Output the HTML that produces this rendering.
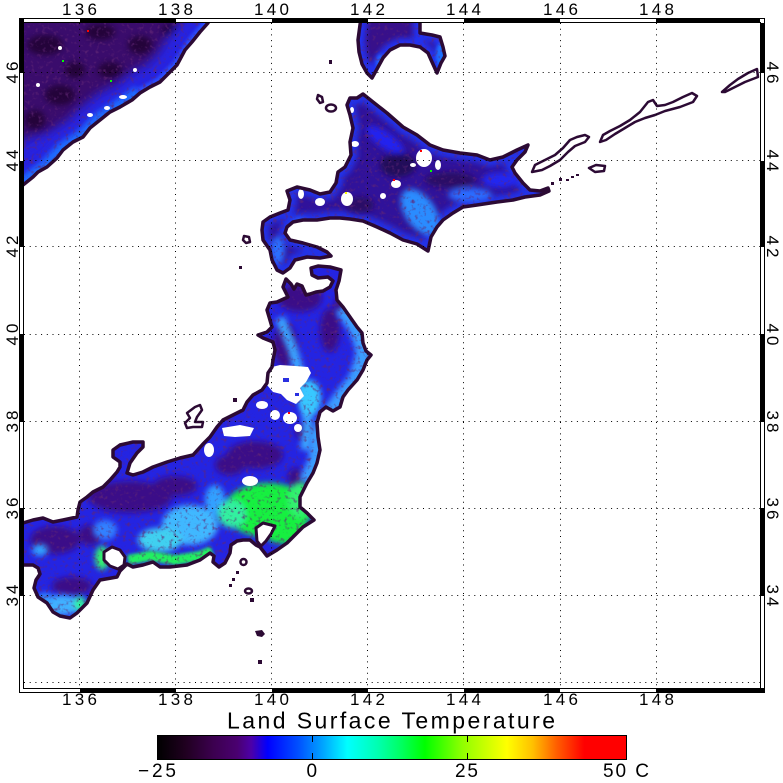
<!DOCTYPE html>
<html><head><meta charset="utf-8"><style>
html,body{margin:0;padding:0;background:#fff;}
svg{display:block;}
text{font-family:"Liberation Sans",sans-serif;fill:#000;}
</style></head><body>
<svg width="783" height="783" viewBox="0 0 783 783" xmlns="http://www.w3.org/2000/svg">
<defs>
<path id="rusF" d="M212,-30 L212,-5 L208,23 L200,32 L192,42 L185,50 L177,65 L170,72 L160,82 L150,87 L140,93 L132,100 L120,107 L110,112 L100,120 L90,128 L83,137 L73,142 L63,150 L57,158 L47,167 L38,172 L33,177 L23,185 L-5,190 L-30,190 L-30,-30 Z"/>
<path id="rusC" d="M212,-5 L208,23 L200,32 L192,42 L185,50 L177,65 L170,72 L160,82 L150,87 L140,93 L132,100 L120,107 L110,112 L100,120 L90,128 L83,137 L73,142 L63,150 L57,158 L47,167 L38,172 L33,177 L23,185 L-5,190"/>
<path id="sak" d="M363,5 L420,5 L420,33 L432,35 L440,37 L443,47 L445,56 L441,63 L437,73 L432,62 L428,53 L420,47 L410,45 L400,45 L390,50 L383,58 L377,69 L372,78 L367,73 L362,64 L359,52 L358,40 L360,25 Z"/>
<path id="hok" d="M363,94 L373,102 L387,113 L403,127 L417,135 L430,145 L443,150 L460,153 L477,155 L490,160 L503,157 L517,150 L528,145 L525,152 L517,160 L512,167 L515,173 L523,183 L530,190 L540,191 L548,188 L549,191 L540,195 L525,197 L513,200 L497,202 L477,205 L463,207 L453,213 L443,220 L437,227 L431,237 L428,251 L417,244 L403,240 L390,233 L377,227 L363,221 L350,219 L340,218 L330,218 L317,220 L303,220 L293,222 L287,227 L285,233 L290,240 L303,243 L317,247 L327,252 L331,256 L320,258 L307,257 L295,260 L290,268 L283,273 L277,270 L272,260 L270,250 L263,240 L262,230 L263,222 L270,217 L280,213 L288,210 L290,200 L287,191 L297,187 L310,190 L320,194 L330,192 L336,183 L338,172 L345,167 L351,155 L350,142 L353,128 L350,115 L347,105 L350,98 L357,98 Z"/>
<path id="hon" d="M286,279 L291,284 L294,289 L297,284 L302,286 L306,295 L310,294 L316,292 L323,291 L330,287 L333,281 L328,277 L318,278 L312,275 L311,268 L318,266 L330,267 L341,270 L339,281 L336,290 L337,300 L343,307 L350,317 L357,327 L362,333 L363,343 L366,351 L371,355 L367,360 L363,370 L357,380 L348,390 L343,397 L340,407 L333,411 L326,407 L320,412 L317,423 L318,437 L320,450 L317,463 L313,473 L307,483 L300,497 L300,507 L307,513 L314,520 L303,527 L297,533 L287,543 L277,550 L267,556 L260,547 L256,545 L250,540 L243,540 L237,541 L231,545 L230,553 L225,563 L219,567 L213,562 L214,556 L210,553 L200,560 L187,565 L170,567 L160,567 L153,562 L143,565 L133,567 L127,564 L120,571 L117,577 L100,580 L93,590 L87,603 L77,613 L70,618 L60,616 L53,612 L47,603 L38,597 L34,588 L36,580 L40,574 L38,568 L33,565 L23,565 L5,565 L5,522 L23,523 L33,520 L43,518 L53,522 L63,520 L77,517 L78,510 L80,502 L87,497 L93,492 L103,487 L110,480 L117,472 L120,467 L120,462 L113,457 L113,450 L120,445 L133,442 L143,442 L143,447 L137,453 L130,463 L127,473 L133,475 L143,472 L153,467 L167,462 L180,458 L193,455 L203,444 L210,437 L217,427 L223,420 L237,413 L243,410 L247,402 L253,395 L262,390 L267,383 L268,373 L272,367 L273,360 L275,350 L273,342 L263,338 L258,335 L267,332 L272,327 L267,310 L270,303 L277,302 L288,297 L283,287 Z"/>
<clipPath id="plot"><rect x="24" y="23" width="736" height="665"/></clipPath>
<clipPath id="cRus"><use href="#rusF"/></clipPath>
<clipPath id="cSak"><use href="#sak"/></clipPath>
<clipPath id="cHok"><use href="#hok"/></clipPath>
<clipPath id="cHon"><use href="#hon"/></clipPath>
<clipPath id="cAll"><use href="#rusF"/><use href="#sak"/><use href="#hok"/><use href="#hon"/></clipPath>
<filter id="b2" filterUnits="userSpaceOnUse" x="0" y="0" width="783" height="783"><feGaussianBlur stdDeviation="1.5"/></filter>
<filter id="b3" filterUnits="userSpaceOnUse" x="0" y="0" width="783" height="783"><feGaussianBlur stdDeviation="3"/></filter>
<filter id="b5" filterUnits="userSpaceOnUse" x="0" y="0" width="783" height="783"><feGaussianBlur stdDeviation="5"/></filter>
<filter id="noise" filterUnits="userSpaceOnUse" x="0" y="0" width="783" height="783">
<feTurbulence type="fractalNoise" baseFrequency="0.26" numOctaves="2" seed="7" result="t"/>
<feColorMatrix in="t" type="matrix" values="0 0 0 0 0.12  0 0 0 0 0.02  0 0 0 0 0.18  3.2 0 0 0 -1.75"/>
</filter>
<linearGradient id="cb" x1="0" y1="0" x2="1" y2="0">
<stop offset="0" stop-color="#000000"/>
<stop offset="0.06" stop-color="#200020"/>
<stop offset="0.12" stop-color="#3c0050"/>
<stop offset="0.17" stop-color="#4a0070"/>
<stop offset="0.20" stop-color="#4c00a8"/>
<stop offset="0.235" stop-color="#0000ff"/>
<stop offset="0.30" stop-color="#0050ff"/>
<stop offset="0.35" stop-color="#00a0ff"/>
<stop offset="0.405" stop-color="#00ffff"/>
<stop offset="0.47" stop-color="#00ffb0"/>
<stop offset="0.52" stop-color="#00ff60"/>
<stop offset="0.57" stop-color="#00ff00"/>
<stop offset="0.65" stop-color="#90ff00"/>
<stop offset="0.745" stop-color="#ffff00"/>
<stop offset="0.80" stop-color="#ffc000"/>
<stop offset="0.85" stop-color="#ff6000"/>
<stop offset="0.89" stop-color="#ff2000"/>
<stop offset="0.91" stop-color="#ff0000"/>
<stop offset="1" stop-color="#ff0000"/>
</linearGradient>
</defs>

<rect x="0" y="0" width="783" height="783" fill="#fff"/>

<g clip-path="url(#plot)">
<!-- Russia -->
<g clip-path="url(#cRus)">
<rect x="0" y="0" width="260" height="200" fill="#3a0c6c"/>
<g fill="#1c0628" opacity="0.7" filter="url(#b3)">
<ellipse cx="45" cy="45" rx="18" ry="10"/><ellipse cx="100" cy="32" rx="15" ry="8"/>
<ellipse cx="140" cy="45" rx="12" ry="9"/><ellipse cx="60" cy="95" rx="15" ry="10"/>
<ellipse cx="110" cy="70" rx="12" ry="8"/><ellipse cx="170" cy="30" rx="8" ry="6"/>
<ellipse cx="35" cy="120" rx="10" ry="10"/><ellipse cx="75" cy="70" rx="10" ry="8"/>
</g>
<ellipse cx="45" cy="160" rx="40" ry="25" fill="#2a20d8" filter="url(#b5)"/>
<use href="#rusC" fill="none" stroke="#2624e0" stroke-width="44" filter="url(#b5)"/>
<path d="M140,93 L120,107 L100,120 L83,137 L63,150 L47,167 L23,185" fill="none" stroke="#1e6cff" stroke-width="16" filter="url(#b3)"/>
<path d="M208,23 L192,42 L177,65 L160,82 L140,93" fill="none" stroke="#2a50ff" stroke-width="10" filter="url(#b2)"/>
</g>
<!-- Sakhalin -->
<g clip-path="url(#cSak)">
<rect x="340" y="0" width="120" height="90" fill="#38108a"/>
<use href="#sak" fill="none" stroke="#2030f0" stroke-width="14" filter="url(#b3)"/>
<ellipse cx="441" cy="55" rx="5" ry="12" fill="#1e70ff" filter="url(#b2)"/>
<ellipse cx="381" cy="62" rx="5" ry="8" fill="#2060ff" filter="url(#b2)"/>
</g>
<!-- Hokkaido -->
<g clip-path="url(#cHok)">
<rect x="250" y="85" width="310" height="195" fill="#30129a"/>
<use href="#hok" fill="none" stroke="#2030e8" stroke-width="14" filter="url(#b3)"/>
<g filter="url(#b3)">
<ellipse cx="420" cy="212" rx="15" ry="26" transform="rotate(-35 420 212)" fill="#2a8cff"/>
<ellipse cx="470" cy="195" rx="22" ry="7" fill="#2a6cff"/>
<ellipse cx="385" cy="140" rx="22" ry="8" transform="rotate(35 385 140)" fill="#2424f0"/>
<ellipse cx="300" cy="230" rx="10" ry="12" fill="#2a60ff"/>
<ellipse cx="278" cy="250" rx="7" ry="14" fill="#2a70ff"/>
<ellipse cx="500" cy="180" rx="18" ry="8" fill="#2428f0"/>
<ellipse cx="398" cy="165" rx="18" ry="12" fill="#24085a"/>
<ellipse cx="450" cy="180" rx="25" ry="8" fill="#2a0a66"/>
<ellipse cx="360" cy="205" rx="14" ry="8" fill="#2a0a66"/>
<ellipse cx="330" cy="150" rx="8" ry="10" fill="#2a0a66"/>
</g>
</g>
<!-- Honshu -->
<g clip-path="url(#cHon)">
<rect x="0" y="255" width="400" height="380" fill="#2424e2"/>
<g fill="#3a0c88" filter="url(#b3)">
<ellipse cx="300" cy="298" rx="22" ry="14"/><ellipse cx="285" cy="345" rx="12" ry="22"/>
<ellipse cx="330" cy="330" rx="10" ry="22"/><ellipse cx="340" cy="305" rx="6" ry="8"/>
<ellipse cx="255" cy="455" rx="28" ry="14"/><ellipse cx="230" cy="465" rx="15" ry="10"/>
<ellipse cx="130" cy="497" rx="42" ry="16"/><ellipse cx="175" cy="486" rx="22" ry="10"/>
<ellipse cx="55" cy="540" rx="25" ry="14"/><ellipse cx="72" cy="586" rx="20" ry="9"/>
<ellipse cx="305" cy="432" rx="10" ry="8"/><ellipse cx="296" cy="478" rx="8" ry="10"/>
<ellipse cx="90" cy="535" rx="12" ry="10"/>
</g>
<path d="M343,307 L357,327 L363,343 L365,355 L357,380 L343,397 L333,411 L318,437 L318,460 L307,483" fill="none" stroke="#3a9cff" stroke-width="18" filter="url(#b3)"/>
<path d="M280,318 L293,350 L300,375 L305,400 L308,425 L305,450" fill="none" stroke="#3aa4ff" stroke-width="10" filter="url(#b3)"/>
<g filter="url(#b3)">
<ellipse cx="310" cy="398" rx="11" ry="18" fill="#38c8ff"/>
<ellipse cx="190" cy="525" rx="28" ry="20" fill="#40b8ff"/>
<ellipse cx="160" cy="540" rx="22" ry="12" fill="#40d0f0"/>
<ellipse cx="215" cy="500" rx="10" ry="15" fill="#30a0ff"/>
<ellipse cx="105" cy="530" rx="12" ry="10" fill="#3080ff"/>
<ellipse cx="268" cy="510" rx="44" ry="27" fill="#18f040"/>
<ellipse cx="285" cy="530" rx="22" ry="14" fill="#18f040"/>
<ellipse cx="300" cy="500" rx="12" ry="18" fill="#30f070"/>
<ellipse cx="232" cy="514" rx="14" ry="14" fill="#30f0a0"/>
<ellipse cx="102" cy="558" rx="7" ry="12" fill="#30f070"/>
<ellipse cx="62" cy="605" rx="20" ry="10" fill="#40b0ff"/>
<ellipse cx="80" cy="604" rx="6" ry="8" fill="#30f0a0"/>
<ellipse cx="45" cy="598" rx="8" ry="5" fill="#3090ff"/>
<ellipse cx="40" cy="550" rx="8" ry="6" fill="#30a0ff"/>
</g>
<path d="M128,560 L150,556 L175,560 L200,556 L212,551" fill="none" stroke="#20f060" stroke-width="10" filter="url(#b2)"/>
</g>
<!-- texture -->
<g clip-path="url(#cAll)">
<rect x="0" y="0" width="783" height="783" fill="#000" filter="url(#noise)" opacity="0.8"/>
</g>
<!-- white / no-data patches -->
<g fill="#fff">
<path d="M268,368 L280,365 L295,366 L308,367 L311,373 L306,382 L300,388 L304,396 L296,404 L287,400 L281,394 L273,392 L267,385 Z"/>
<ellipse cx="262" cy="405" rx="6" ry="4"/><ellipse cx="290" cy="418" rx="7" ry="6"/>
<ellipse cx="275" cy="415" rx="5" ry="5"/><ellipse cx="298" cy="428" rx="4" ry="4"/>
<path d="M222,428 L240,425 L254,428 L250,436 L235,437 L224,436 Z"/>
<ellipse cx="209" cy="450" rx="5" ry="7"/><ellipse cx="250" cy="481" rx="8" ry="5"/>
<ellipse cx="424" cy="158" rx="8" ry="9"/><ellipse cx="396" cy="184" rx="5" ry="4"/>
<ellipse cx="347" cy="199" rx="6" ry="7"/><ellipse cx="320" cy="202" rx="5" ry="4"/>
<ellipse cx="355" cy="144" rx="4" ry="3"/><ellipse cx="301" cy="194" rx="3" ry="5"/>
<ellipse cx="352" cy="110" rx="2" ry="3"/><ellipse cx="413" cy="165" rx="3" ry="2"/>
<ellipse cx="383" cy="196" rx="3" ry="3"/><ellipse cx="438" cy="165" rx="3" ry="5"/>
<ellipse cx="123" cy="97" rx="4" ry="2"/><ellipse cx="107" cy="108" rx="3" ry="2"/>
<ellipse cx="90" cy="115" rx="3" ry="2"/><ellipse cx="60" cy="48" rx="2" ry="2"/>
<ellipse cx="135" cy="70" rx="2" ry="2"/><ellipse cx="38" cy="85" rx="2" ry="2"/>
</g>
<g>
<rect x="283" y="378" width="6" height="4" fill="#2a30e0"/><rect x="295" y="393" width="4" height="3" fill="#2a30e0"/>
<rect x="420" y="150" width="2" height="2" fill="#f00"/><rect x="430" y="170" width="2" height="2" fill="#0f0"/>
<rect x="345" y="192" width="2" height="2" fill="#ff0"/><rect x="393" y="179" width="2" height="2" fill="#f00"/>
<rect x="87" y="30" width="2" height="2" fill="#f00"/><rect x="62" y="60" width="2" height="2" fill="#0f0"/>
<rect x="110" y="80" width="2" height="2" fill="#0f0"/><rect x="288" y="412" width="2" height="2" fill="#f00"/>
</g>
<!-- bays -->
<g fill="#fff" stroke="#2c0a34" stroke-width="3" stroke-linejoin="round">
<path d="M104,552 L112,547 L120,550 L125,557 L124,565 L118,569 L110,566 L104,560 Z"/>
<path d="M256,528 L263,523 L275,526 L271,534 L266,541 L261,546 L257,541 Z"/>
</g>
<!-- coast outlines -->
<g fill="none" stroke="#2c0a34" stroke-width="3.5" stroke-linejoin="round">
<use href="#rusC"/><use href="#sak"/><use href="#hok"/><use href="#hon"/>
</g>
<!-- small islands -->
<g fill="none" stroke="#2c0a34" stroke-width="2.5" stroke-linejoin="round">
<path d="M187,413 L195,407 L200,405 L202,410 L197,417 L195,422 L203,422 L202,427 L193,427 L187,428 L185,423 L190,418 Z"/>
<path d="M532,172 L535,165 L545,160 L555,155 L563,148 L570,140 L577,137 L585,135 L589,137 L585,142 L575,146 L568,152 L560,160 L550,166 L542,170 Z"/>
<path d="M589,168 L596,165 L605,166 L604,171 L595,172 Z"/>
<path d="M600,142 L603,135 L610,131 L620,126 L630,120 L640,112 L648,102 L653,100 L657,106 L665,105 L673,102 L683,97 L692,93 L697,96 L693,102 L680,107 L665,111 L655,115 L645,118 L635,122 L625,128 L615,134 L606,140 Z"/>
<path d="M722,92 L730,85 L738,79 L748,73 L757,69 L758,77 L745,82 L733,88 L725,92 Z"/>
<path d="M318,95 L322,97 L323,102 L320,103 L317,99 Z"/>
<ellipse cx="331" cy="108" rx="5" ry="3.5"/>
<path d="M244,236 L249,237 L250,242 L246,243 L243,240 Z"/>
<circle cx="243.5" cy="562" r="3"/>
<ellipse cx="248.5" cy="591" rx="3.5" ry="2.5"/>
</g>
<g fill="#2c0a34">
<rect x="329" y="60" width="3" height="4"/><rect x="239" y="266" width="3" height="3"/>
<rect x="233" y="398" width="4" height="4"/>
<rect x="236" y="571" width="3" height="3"/><rect x="232" y="578" width="3" height="3"/>
<rect x="229" y="584" width="3" height="3"/><rect x="250" y="598" width="4" height="4"/>
<path d="M255,631 L262,630 L265,634 L262,637 L257,636 Z"/>
<rect x="258" y="660" width="4" height="4"/>
<rect x="551" y="182" width="3" height="3"/><rect x="559" y="178" width="3" height="3"/>
<rect x="566" y="179" width="3" height="2"/><rect x="571" y="176" width="3" height="2"/>
<rect x="576" y="174" width="3" height="2"/>
</g>
<!-- grid -->
<g stroke="#000" stroke-width="1" stroke-dasharray="1 4.7" fill="none">
<path d="M79.5,23 V688 M175.5,23 V688 M271.5,23 V688 M367.5,23 V688 M463.5,23 V688 M560.5,23 V688 M656.5,23 V688"/>
<path d="M24,72.5 H760 M24,160.5 H760 M24,246.5 H760 M24,334.5 H760 M24,421.5 H760 M24,508.5 H760 M24,595.5 H760 M24,682.5 H760"/>
</g>
</g>

<!-- frame -->
<g fill="#000">
<rect x="80" y="18" width="96" height="5"/><rect x="272" y="18" width="96" height="5"/>
<rect x="464" y="18" width="96" height="5"/><rect x="656" y="18" width="104" height="5"/>
<rect x="80" y="688" width="96" height="5"/><rect x="272" y="688" width="96" height="5"/>
<rect x="464" y="688" width="96" height="5"/><rect x="656" y="688" width="109" height="5"/>
<rect x="19" y="18" width="5" height="55"/><rect x="19" y="161" width="5" height="86"/>
<rect x="19" y="334" width="5" height="88"/><rect x="19" y="508" width="5" height="88"/>
<rect x="760" y="23" width="5" height="50"/><rect x="760" y="161" width="5" height="86"/>
<rect x="760" y="334" width="5" height="88"/><rect x="760" y="508" width="5" height="88"/>
</g>
<rect x="19.5" y="18.5" width="745" height="674" fill="none" stroke="#000" stroke-width="1"/>
<rect x="23.5" y="22.5" width="737" height="666" fill="none" stroke="#000" stroke-width="1"/>

<!-- axis labels -->
<g font-size="17">
<text x="62" y="15" textLength="35" lengthAdjust="spacing">136</text>
<text x="158" y="15" textLength="35" lengthAdjust="spacing">138</text>
<text x="254" y="15" textLength="35" lengthAdjust="spacing">140</text>
<text x="350" y="15" textLength="35" lengthAdjust="spacing">142</text>
<text x="446" y="15" textLength="35" lengthAdjust="spacing">144</text>
<text x="543" y="15" textLength="35" lengthAdjust="spacing">146</text>
<text x="639" y="15" textLength="35" lengthAdjust="spacing">148</text>
<text x="62" y="705" textLength="35" lengthAdjust="spacing">136</text>
<text x="158" y="705" textLength="35" lengthAdjust="spacing">138</text>
<text x="254" y="705" textLength="35" lengthAdjust="spacing">140</text>
<text x="350" y="705" textLength="35" lengthAdjust="spacing">142</text>
<text x="446" y="705" textLength="35" lengthAdjust="spacing">144</text>
<text x="543" y="705" textLength="35" lengthAdjust="spacing">146</text>
<text x="639" y="705" textLength="35" lengthAdjust="spacing">148</text>
<g>
<text transform="translate(18,83.5) rotate(-90)" textLength="22" lengthAdjust="spacing">46</text>
<text transform="translate(18,171.5) rotate(-90)" textLength="22" lengthAdjust="spacing">44</text>
<text transform="translate(18,257.5) rotate(-90)" textLength="22" lengthAdjust="spacing">42</text>
<text transform="translate(18,345.5) rotate(-90)" textLength="22" lengthAdjust="spacing">40</text>
<text transform="translate(18,432.5) rotate(-90)" textLength="22" lengthAdjust="spacing">38</text>
<text transform="translate(18,519.5) rotate(-90)" textLength="22" lengthAdjust="spacing">36</text>
<text transform="translate(18,606.5) rotate(-90)" textLength="22" lengthAdjust="spacing">34</text>
</g>
<g>
<text transform="translate(767,61.5) rotate(90)" textLength="22" lengthAdjust="spacing">46</text>
<text transform="translate(767,149.5) rotate(90)" textLength="22" lengthAdjust="spacing">44</text>
<text transform="translate(767,235.5) rotate(90)" textLength="22" lengthAdjust="spacing">42</text>
<text transform="translate(767,323.5) rotate(90)" textLength="22" lengthAdjust="spacing">40</text>
<text transform="translate(767,410.5) rotate(90)" textLength="22" lengthAdjust="spacing">38</text>
<text transform="translate(767,497.5) rotate(90)" textLength="22" lengthAdjust="spacing">36</text>
<text transform="translate(767,584.5) rotate(90)" textLength="22" lengthAdjust="spacing">34</text>
</g>
</g>

<!-- title -->
<text x="227" y="728.5" font-size="23" textLength="328" lengthAdjust="spacing">Land Surface Temperature</text>

<!-- colorbar -->
<rect x="157.5" y="735.5" width="469" height="24" fill="url(#cb)" stroke="#000" stroke-width="1"/>
<g stroke="#000" stroke-width="1">
<path d="M312.5,736 V742 M467.5,736 V742 M312.5,753 V759 M467.5,753 V759"/>
</g>
<g font-size="19">
<text x="138" y="777" textLength="38" lengthAdjust="spacing">−25</text>
<text x="306.5" y="777">0</text>
<text x="455" y="777" textLength="23" lengthAdjust="spacing">25</text>
<text x="603" y="777" textLength="46" lengthAdjust="spacing">50 C</text>
</g>
</svg>
</body></html>
